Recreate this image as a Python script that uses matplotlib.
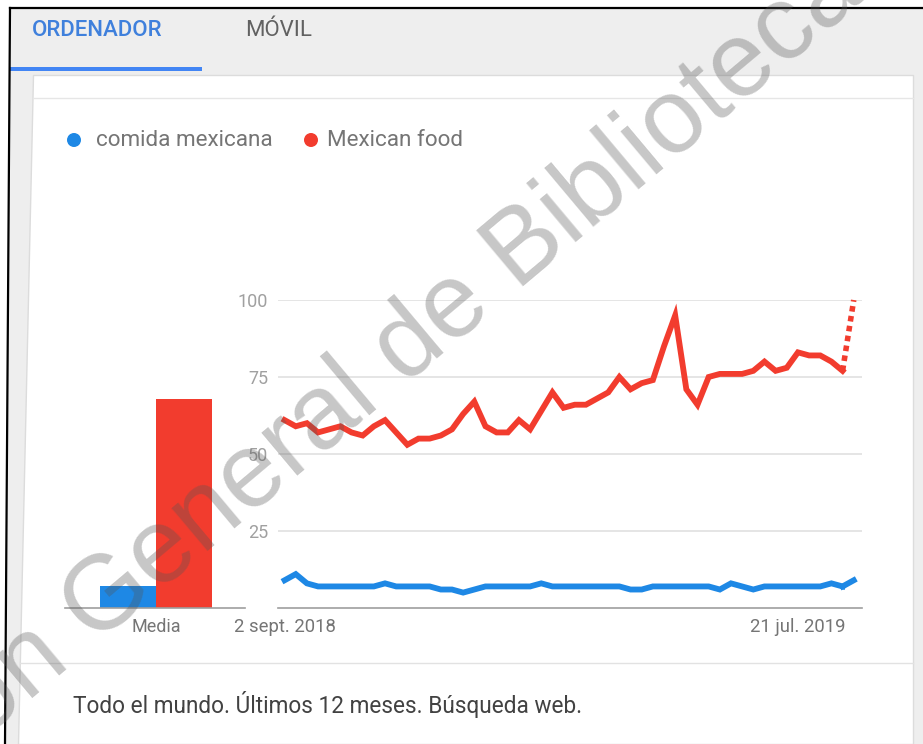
import matplotlib
matplotlib.use('Agg')
import matplotlib.pyplot as plt
from matplotlib.patches import Polygon, Rectangle, Circle

plt.rcParams['font.family'] = ['Roboto', 'DejaVu Sans']

# Data (Google Trends, weekly interest, last 12 months)
series_names = ['comida mexicana', 'Mexican food']
mexican_food = [61, 59, 60, 57, 58, 59, 57, 56, 59, 61,
                57, 53, 55, 55, 56, 58, 63, 67, 59, 57,
                57, 61, 58, 64, 70, 65, 66, 66, 68, 70,
                75, 71, 73, 74, 85, 95, 71, 66, 75, 76,
                76, 76, 77, 80, 77, 78, 83, 82, 82, 80,
                77, 100]
comida_mexicana = [9, 11, 8, 7, 7, 7, 7, 7, 7, 8,
                   7, 7, 7, 7, 6, 6, 5, 6, 7, 7,
                   7, 7, 7, 8, 7, 7, 7, 7, 7, 7,
                   7, 6, 6, 7, 7, 7, 7, 7, 7, 6,
                   8, 7, 6, 7, 7, 7, 7, 7, 7, 8,
                   7, 9]
averages = [7, 68]
y_ticks = [25, 50, 75, 100]
date_ticks = [0, 46]
date_labels = ['2 sept. 2018', '21 jul. 2019']

BLUE = '#1e88e5'
RED = '#f23c2e'
W, H = 923, 744

fig = plt.figure(figsize=(W / 100, H / 100), dpi=100)


def frac(x0, y0, x1, y1):
    # pixel box (top-left origin) -> figure fraction rect
    return [x0 / W, 1 - y1 / H, (x1 - x0) / W, (y1 - y0) / H]


# Background / page chrome in pixel coordinates
bg = fig.add_axes([0, 0, 1, 1], zorder=-1)
bg.set_xlim(0, W)
bg.set_ylim(H, 0)
bg.axis('off')
bg.add_patch(Polygon([(10, 8), (W, 8), (W, H), (5, H)], closed=True,
                     facecolor='#eeeeee', edgecolor='none'))
bg.add_patch(Polygon([(33, 75), (913, 75), (913, H), (18, H)], closed=True,
                     facecolor='white', edgecolor='#dcdcdc', lw=1))
bg.plot([10, 5], [8, H], color='black', lw=1.6)
bg.plot([10, W], [8, 8], color='black', lw=1.6)
bg.add_patch(Rectangle((10, 67), 192, 4, facecolor='#4285f4', edgecolor='none'))
bg.plot([33, 913], [98, 98], color='#e6e6e6', lw=1)
bg.plot([20, 913], [663, 663], color='#e2e2e2', lw=1)

# Tabs
bg.text(32, 30, 'ORDENADOR', color='#3f80dc', fontsize=16, fontweight='medium',
        va='center', ha='left')
bg.text(245, 30, 'MÓVIL', color='#616161', fontsize=16,
        va='center', ha='left')

# Legend
for cx, tx, name, col in [(74, 96, series_names[0], BLUE), (311, 327, series_names[1], RED)]:
    bg.add_patch(Circle((cx, 140), 7, facecolor=col, edgecolor='none'))
    bg.text(tx, 140, name, color='#757575', fontsize=16.2, va='center', ha='left')

# Footer
bg.text(73, 705, 'Todo el mundo. Últimos 12 meses. Búsqueda web.', color='#424242',
        fontsize=16.3, va='center', ha='left')

# Average bars
axb = fig.add_axes(frac(65, 300, 245, 608))
axb.set_facecolor('none')
axb.bar([0, 1], averages, width=1.0, color=[BLUE, RED])
axb.set_xlim(-1.125, 2.09)
axb.set_ylim(0, 100)
axb.axhline(0, color='#9e9e9e', lw=1.2, clip_on=False)
for s in axb.spines.values():
    s.set_visible(False)
axb.set_yticks([])
axb.set_xticks([0.5])
axb.set_xticklabels(['Media'])
axb.tick_params(axis='x', length=0, pad=7, labelsize=13, labelcolor='#757575')

# Time series
x = list(range(len(mexican_food)))
ax = fig.add_axes(frac(278, 300, 862, 608))
ax.set_facecolor('none')
ax.set_xlim(-0.59, 51.74)
ax.set_ylim(0, 100)
for s in ax.spines.values():
    s.set_visible(False)
ax.set_yticks(y_ticks)
ax.grid(axis='y', color='#e3e3e3', lw=1.3)
ax.set_axisbelow(True)
ax.axhline(0, color='#9e9e9e', lw=1.2, clip_on=False)
ax.tick_params(axis='y', length=0, pad=7, labelsize=13, labelcolor='#a0a0a0')
ax.set_xticks(date_ticks)
ax.set_xticklabels(date_labels)
ax.tick_params(axis='x', length=0, pad=7, labelsize=13.3, labelcolor='#757575')

ax.plot(x[:-1], comida_mexicana[:-1], color=BLUE, lw=4.2, solid_joinstyle='miter',
        clip_on=False)
ax.plot(x[-2:], comida_mexicana[-2:], color=BLUE, lw=4.2, clip_on=False)
ax.plot(x[:-1], mexican_food[:-1], color=RED, lw=4.2, solid_joinstyle='miter',
        clip_on=False)
ax.plot(x[-2:], mexican_food[-2:], color=RED, lw=4.0, linestyle=(0, (1.0, 0.8)),
        dash_capstyle='butt', clip_on=False)

# Watermark
wx, wy = 445, 352
fig.text(wx / W, 1 - wy / H, 'ón General de Bibliotecas', fontsize=76,
         family='Liberation Sans', color='#555555', alpha=0.33, rotation=40,
         rotation_mode='anchor', ha='center', va='baseline', zorder=10)

fig.savefig('out.png', dpi=100, facecolor='white')
